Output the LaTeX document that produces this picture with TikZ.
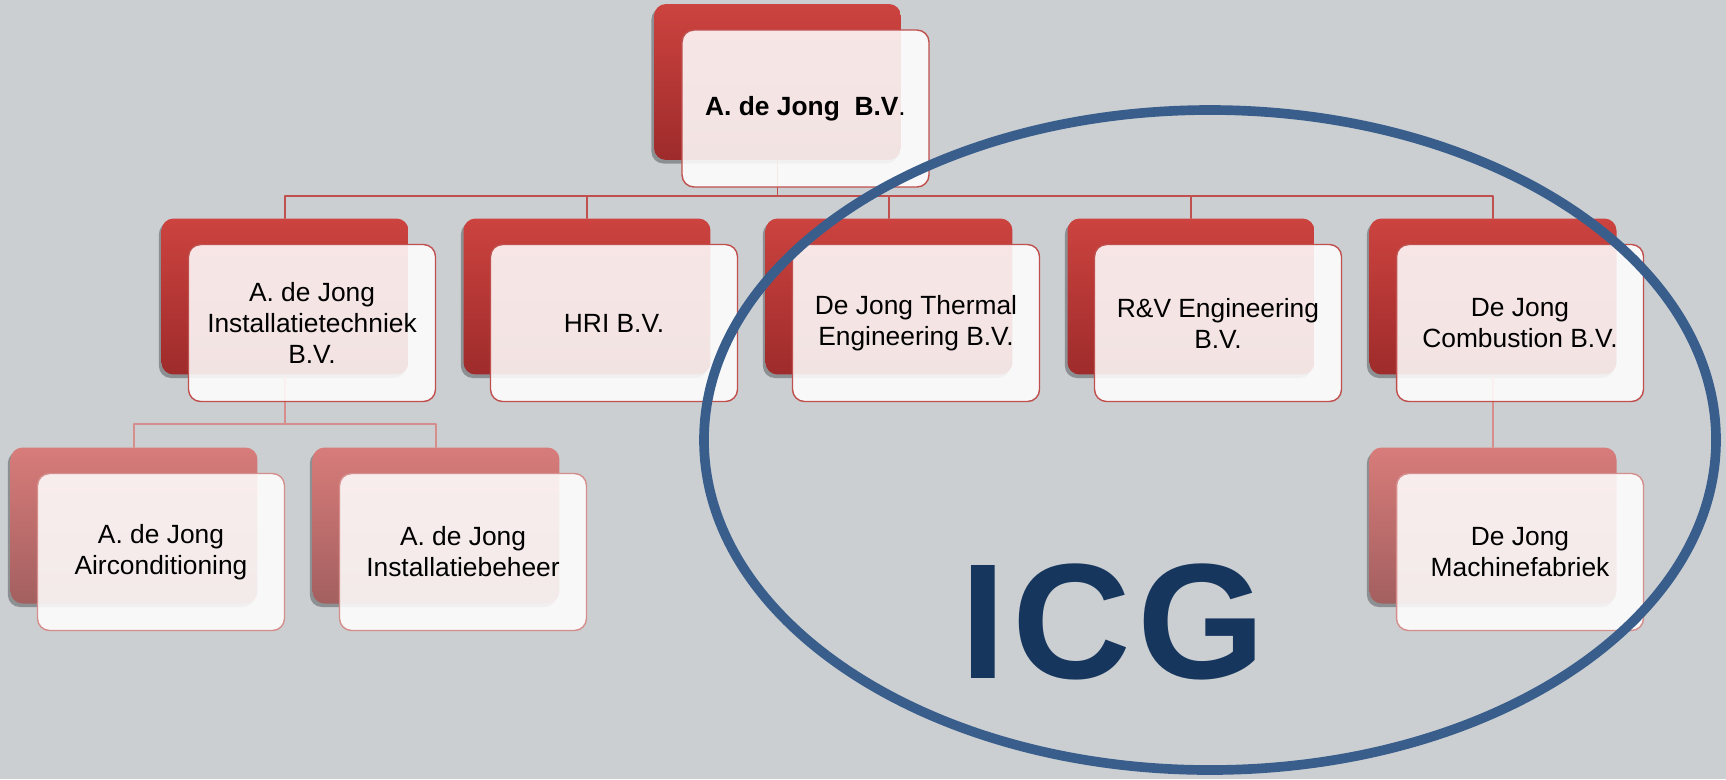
\documentclass[tikz,border=0pt]{standalone}
\usepackage{fontspec}
\setmainfont{Liberation Sans}
\usetikzlibrary{shadows}
\definecolor{bg}{RGB}{203,207,210}
\definecolor{redtop}{RGB}{204,67,63}
\definecolor{redbot}{RGB}{158,43,43}
\definecolor{pinktop}{RGB}{215,124,122}
\definecolor{pinkbot}{RGB}{163,95,95}
\definecolor{edge}{RGB}{192,80,77}
\definecolor{edgelight}{RGB}{214,142,140}
\definecolor{ring}{RGB}{58,94,140}
\definecolor{icg}{RGB}{23,54,93}
\begin{document}
\begin{tikzpicture}[x=0.02cm, y=-0.02cm, line join=round, line cap=round,
	font=\fontsize{15}{17.6}\selectfont,
	back/.style={rectangle, rounded corners=0.24cm, minimum width=4.94cm, minimum height=3.12cm, top color=redtop, bottom color=redbot, drop shadow={shadow xshift=-1.5pt, shadow yshift=-2pt, opacity=0.3, fill=black}},
	backlight/.style={back, top color=pinktop, bottom color=pinkbot},
	front/.style={rectangle, rounded corners=0.24cm, minimum width=4.94cm, minimum height=3.14cm, draw=edge, line width=0.8pt, fill=white, fill opacity=0.87, text opacity=1, align=center},
	frontlight/.style={front, draw=edgelight},
	link/.style={draw=edge, line width=0.9pt},
	linklight/.style={draw=edgelight, line width=0.9pt}]
	\fill[bg] (0,0) rectangle (1726,779);
	\useasboundingbox (0,0) rectangle (1726,779);
	% back boxes
	\node[back] (topb) at (777.5,82) {};
	\node[back] (instb) at (285,296.5) {};
	\node[back] (hrib) at (587,296.5) {};
	\node[back] (thermb) at (889,296.5) {};
	\node[back] (rvb) at (1191,296.5) {};
	\node[back] (combb) at (1493,296.5) {};
	\node[backlight] (aircob) at (134,525.5) {};
	\node[backlight] (beheerb) at (436,525.5) {};
	\node[backlight] (machb) at (1493,525.5) {};
	% connectors
	\coordinate (bus) at (777.5,196);
	\coordinate (bus2) at (285,424);
	\draw[link] (topb.south) -- (bus);
	\draw[link] (instb.north) |- (bus);
	\draw[link] (hrib.north) |- (bus);
	\draw[link] (thermb.north) |- (bus);
	\draw[link] (rvb.north) |- (bus);
	\draw[link] (combb.north) |- (bus);
	\draw[linklight] (instb.south) -- (bus2);
	\draw[linklight] (aircob.north) |- (bus2);
	\draw[linklight] (beheerb.north) |- (bus2);
	\draw[linklight] (combb.south) -- (machb.north);
	% front boxes
	\node[front] (top) at (805.5,108.5) {\textbf{A. de Jong\ \ B.V}.};
	\node[front] (inst) at (312,323) {A. de Jong\\Installatietechniek\\B.V.};
	\node[front] (hri) at (614,323) {HRI B.V.};
	\node[front] (therm) at (916,323) {De Jong Thermal\\Engineering B.V.};
	\node[front] (rv) at (1218,323) {R\&V Engineering\\B.V.};
	\node[front] (comb) at (1520,323) {De Jong\\Combustion B.V.};
	\node[frontlight] (airco) at (161,552) {A. de Jong\\Airconditioning};
	\node[frontlight] (beheer) at (463,552) {A. de Jong\\Installatiebeheer};
	\node[frontlight] (mach) at (1520,552) {De Jong\\Machinefabriek};
	% ICG ring
	\draw[ring, line width=5.5pt] (1210,440) ellipse [x radius=506, y radius=330];
	\node[font=\fontsize{93.5}{100}\selectfont\bfseries\addfontfeature{LetterSpace=4}, text=icg, anchor=base] (icg) at (1113,678) {ICG};
\end{tikzpicture}
\end{document}
